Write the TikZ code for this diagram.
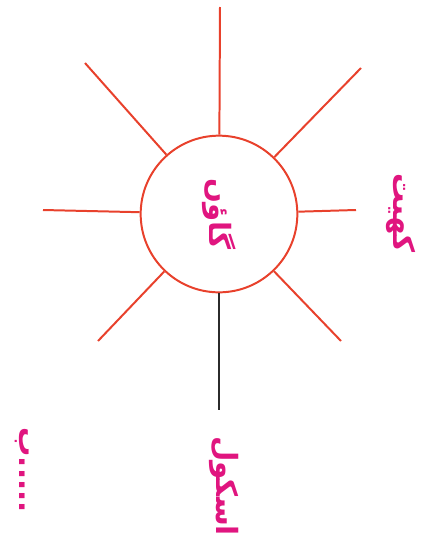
\documentclass[tikz,border=0pt]{standalone}
\usepackage{fontspec}
\usepackage{tikz}
\usetikzlibrary{positioning}
\newfontfamily\urdufont[Script=Arabic]{DejaVu Sans}
\TeXXeTstate=1
\definecolor{raycolor}{HTML}{E8412C}
\definecolor{labelcolor}{HTML}{E0157F}
\definecolor{stemcolor}{HTML}{2B2B2B}

\begin{document}
\begin{tikzpicture}[
    x=0.03cm, y=-0.03cm,
    ray/.style={raycolor, line width=1.7pt},
    stem/.style={stemcolor, line width=1.7pt},
    hub/.style={circle, draw=raycolor, line width=1.7pt, minimum size=4.7cm,
                inner sep=0pt},
    urdu/.style={text=labelcolor, font=\urdufont\bfseries\fontsize{25}{30}\selectfont,
                 rotate=-90, inner sep=2pt},
]
\useasboundingbox (0,0) rectangle (432,554);
% Hub
\node[hub, urdu] (village) at (219,214) {\beginR گاؤں\endR};
% Ray ends
\coordinate (rn)  at (220,7);
\coordinate (rne) at (361,68);
\coordinate (re)  at (356,210);
\coordinate (rse) at (341,341);
\coordinate (rsw) at (98,341);
\coordinate (rw)  at (43,210);
\coordinate (rnw) at (85,63);
\coordinate (stemend) at (219,410);
% Rays
\foreach \r in {rn, rne, re, rse, rsw, rw, rnw}
    \draw[ray] (village) -- (\r);
\draw[stem] (village) -- (stemend);
% Labels
\node[urdu] (field)  at (401,213) {\beginR کھیت\endR};
\node[urdu] (school) at (224,486) {\beginR اسکول\endR};
\node[urdu] (blank)  at (22,470)  {\beginR .....ب\endR};
\end{tikzpicture}
\end{document}
